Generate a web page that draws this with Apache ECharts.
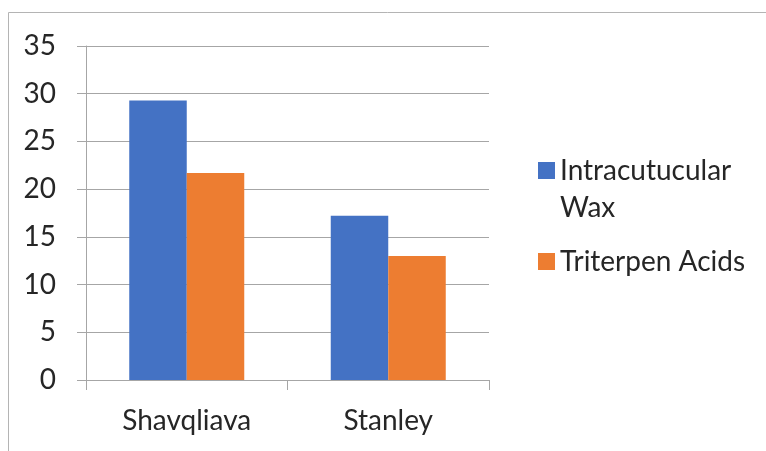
<!DOCTYPE html>
<html>
<head>
<meta charset="utf-8">
<script src="https://cdn.jsdelivr.net/npm/echarts@6/dist/echarts.min.js"></script>
<style>
  html, body { margin: 0; padding: 0; background: #fff; }
  #chart { width: 766px; height: 451px; }
</style>
</head>
<body>
<div id="chart"></div>
<script>
// Varieties on the category axis
const categories = ['Shavqliava', 'Stanley'];
// Series names and values
const waxName = 'Intracutucular Wax';
const waxValues = [29.3, 17.2];
const acidName = 'Triterpen Acids';
const acidValues = [21.7, 13.0];
// Value axis range
const yMin = 0;
const yMax = 35;
const yStep = 5;

const FONT = 'Lato';
const FS = 28;
const LH = 37;
const TEXT = '#262626';
const GRID = '#a6a6a6';

const chart = echarts.init(document.getElementById('chart'), null, { renderer: 'canvas' });

// Square marker sitting beside the first line of a two-line legend entry:
// the invisible end points stretch the icon box to the full text height.
const topSquareIcon = 'path://M0,0L0.001,0M0,' + (LH / 2 - 8.5) + 'L17,' + (LH / 2 - 8.5) +
  'L17,' + (LH / 2 + 8.5) + 'L0,' + (LH / 2 + 8.5) + 'ZM17,' + (2 * LH) + 'L16.999,' + (2 * LH);

chart.setOption({
  animation: false,
  backgroundColor: '#ffffff',
  textStyle: { fontFamily: FONT, color: TEXT },
  grid: { left: 86, right: 277, top: 46, bottom: 71, containLabel: false },
  graphic: [{
    type: 'polyline',
    shape: { points: [[8.5, 451], [8.5, 12.5], [766, 12.5]] },
    style: { stroke: '#b4b4b4', lineWidth: 1, fill: null },
    silent: true
  }],
  legend: [
    {
      orient: 'vertical',
      left: 538,
      top: 170.5 - LH / 2,
      padding: 0,
      itemWidth: 17,
      itemHeight: 2 * LH,
      icon: topSquareIcon,
      data: [waxName],
      formatter: function () { return 'Intracutucular\nWax'; },
      textStyle: { fontFamily: FONT, fontSize: FS, color: TEXT, lineHeight: LH }
    },
    {
      orient: 'vertical',
      left: 538,
      top: 261.5 - LH / 2,
      padding: 0,
      itemWidth: 17,
      itemHeight: 17,
      icon: 'rect',
      data: [acidName],
      textStyle: { fontFamily: FONT, fontSize: FS, color: TEXT, lineHeight: LH }
    }
  ],
  xAxis: {
    type: 'category',
    data: categories,
    axisLine: { show: true, lineStyle: { color: GRID, width: 1 } },
    axisTick: { show: true, length: 10, lineStyle: { color: GRID } },
    axisLabel: { fontFamily: FONT, fontSize: FS, color: TEXT, margin: 27 },
    splitLine: { show: false }
  },
  yAxis: {
    type: 'value',
    min: yMin,
    max: yMax,
    interval: yStep,
    axisLine: { show: true, lineStyle: { color: GRID, width: 1 } },
    axisTick: { show: true, length: 9, lineStyle: { color: GRID } },
    axisLabel: { fontFamily: FONT, fontSize: FS, color: TEXT, margin: 30 },
    splitLine: { show: true, lineStyle: { color: GRID, width: 1 } }
  },
  series: [
    {
      name: waxName,
      type: 'bar',
      data: waxValues,
      barWidth: 57.5,
      barGap: '0%',
      itemStyle: { color: '#4472C4' }
    },
    {
      name: acidName,
      type: 'bar',
      data: acidValues,
      barWidth: 57.5,
      barGap: '0%',
      itemStyle: { color: '#ED7D31' }
    }
  ]
});
</script>
</body>
</html>
